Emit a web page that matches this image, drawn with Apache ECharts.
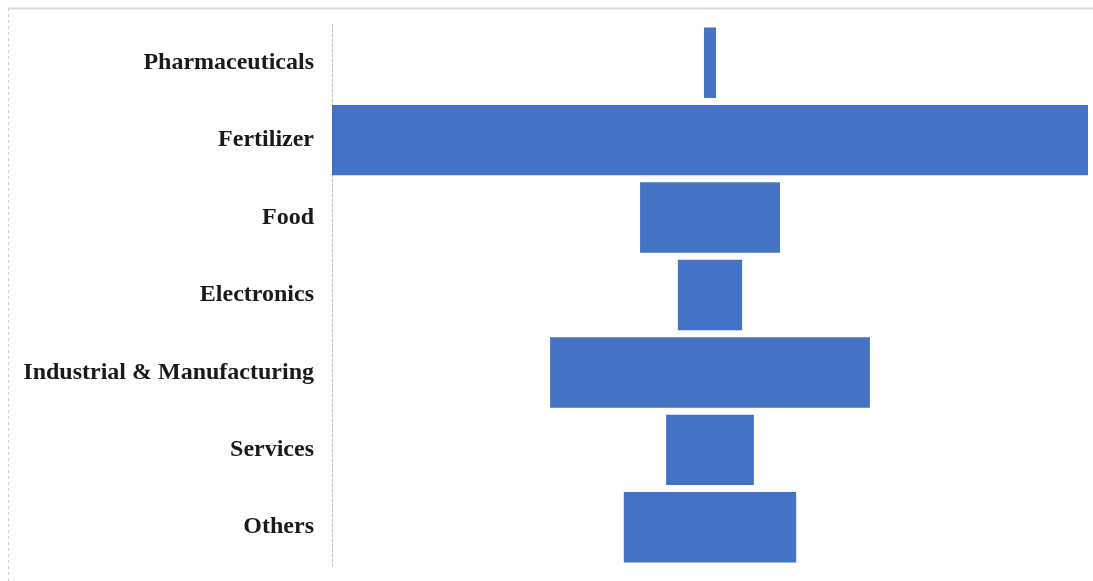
<!DOCTYPE html>
<html><head><meta charset="utf-8">
<script src="https://cdn.jsdelivr.net/npm/echarts@6/dist/echarts.min.js"></script>
<style>html,body{margin:0;padding:0;background:#fff}#c{width:1093px;height:581px}</style>
</head><body><div id="c"></div>
<script>
const categories = ["Pharmaceuticals","Fertilizer","Food","Electronics","Industrial & Manufacturing","Services","Others"];
const values = [1.6, 100, 18.5, 8.5, 42.3, 11.6, 22.8];
const maxVal = 100;

const chart = echarts.init(document.getElementById('c'));
const leftHalf = values.map(v => -v / 2);
const rightHalf = values.map(v => v / 2);
chart.setOption({
  animation: false,
  backgroundColor: '#fff',
  grid: {left: 332, right: 5, top: 24, bottom: 15},
  xAxis: {type: 'value', min: -maxVal / 2, max: maxVal / 2, show: false},
  yAxis: {
    type: 'category', data: categories, inverse: true,
    axisLine: {show: true, onZero: false, lineStyle: {color: '#bfbfbf', type: [3, 2], width: 1}},
    axisTick: {show: false},
    axisLabel: {fontFamily: '"Liberation Serif","Times New Roman",serif', fontWeight: 'bold', fontSize: 24, color: '#1a1a1a', margin: 18}
  },
  series: [
    {type: 'bar', stack: 's', data: leftHalf, barCategoryGap: '9%', itemStyle: {color: '#4472C4'}, silent: true},
    {type: 'bar', stack: 's', data: rightHalf, barCategoryGap: '9%', itemStyle: {color: '#4472C4'}, silent: true}
  ],
  graphic: [
    {type: 'line', shape: {x1: 8, y1: 8.5, x2: 1093, y2: 8.5}, style: {stroke: '#d9d9d9', lineWidth: 2}},
    {type: 'line', shape: {x1: 8.5, y1: 8, x2: 8.5, y2: 581}, style: {stroke: '#d0d0d0', lineWidth: 1, lineDash: [3, 3]}}
  ]
});
</script></body></html>
